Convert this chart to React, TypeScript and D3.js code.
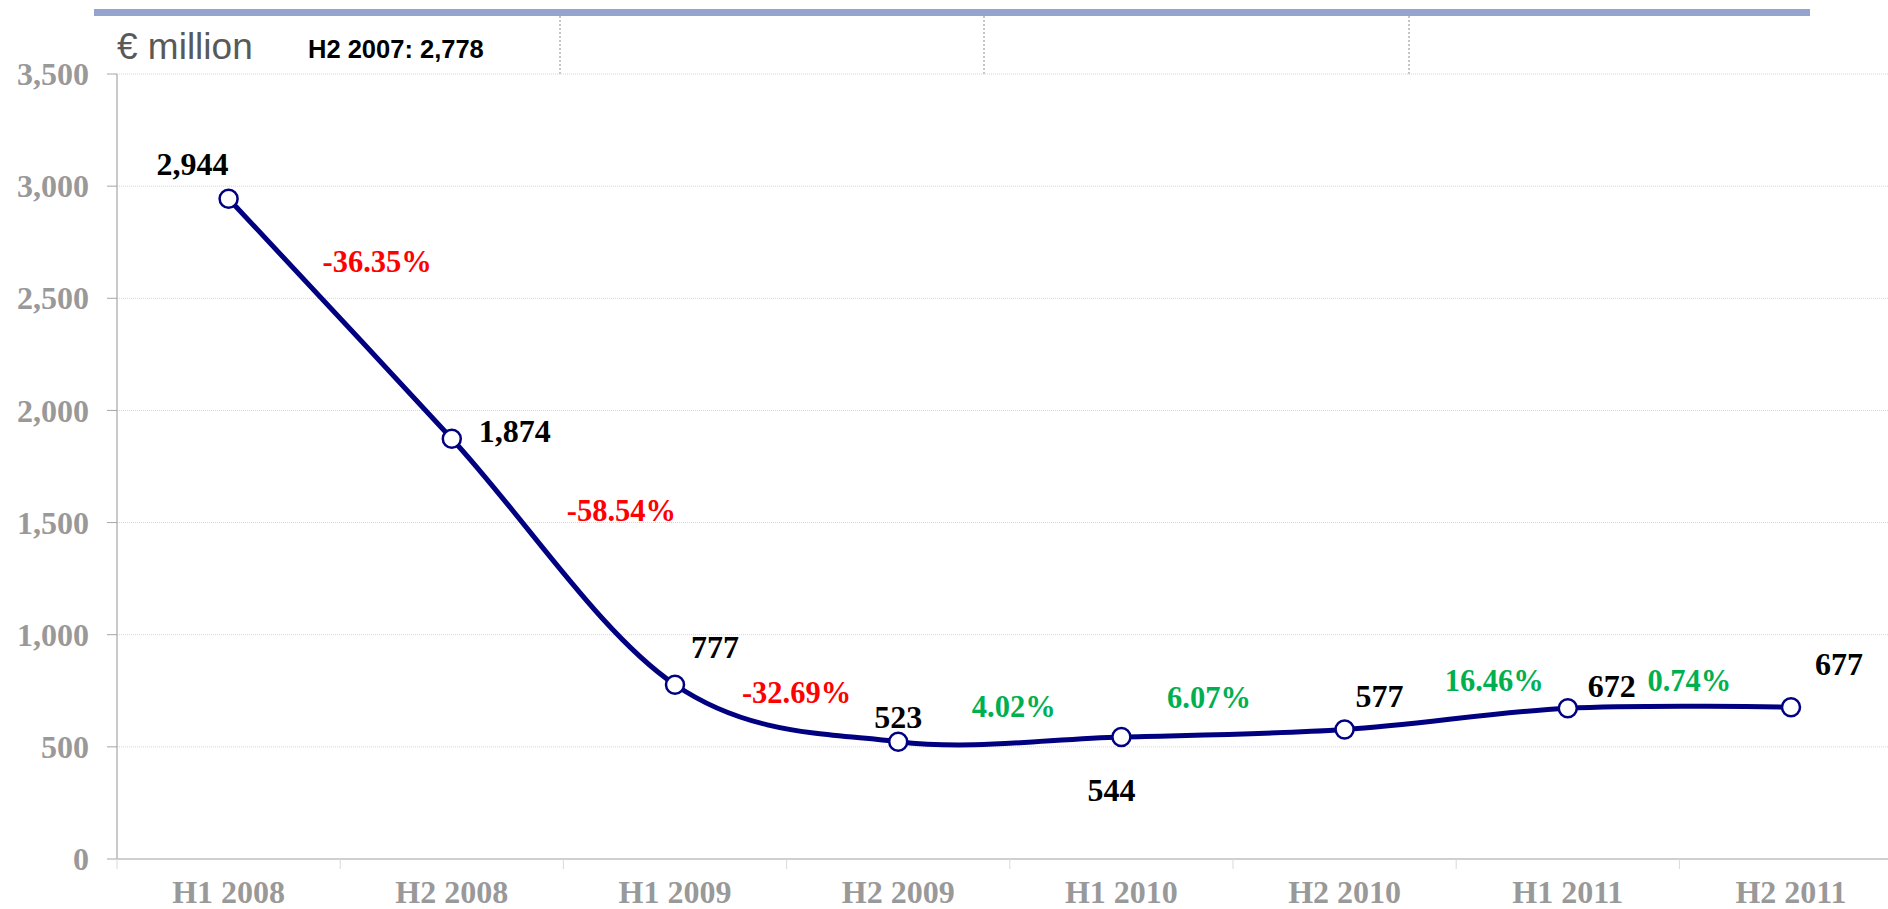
import React from 'react';
import * as d3 from 'd3';

// half-year periods and values (€ million)
const periods = ['H1 2008', 'H2 2008', 'H1 2009', 'H2 2009', 'H1 2010', 'H2 2010', 'H1 2011', 'H2 2011'];
const values = [2944, 1874, 777, 523, 544, 577, 672, 677];
const changes = ['-36.35%', '-58.54%', '-32.69%', '4.02%', '6.07%', '16.46%', '0.74%'];
const yTicks = [0, 500, 1000, 1500, 2000, 2500, 3000, 3500];
const baseLabel = 'H2 2007: 2,778';

// label offsets (px) from the point / from the segment midpoint
const valueOffsets: [number, number, string][] = [
  [0, -24, 'end'],
  [27, 3, 'start'],
  [16, -27, 'start'],
  [0, -14, 'middle'],
  [-10, 64, 'middle'],
  [11, -23, 'start'],
  [20, -11, 'start'],
  [24, -32, 'start'],
];
const changeOffsets: [number, number][] = [
  [37, -47], [58, -41], [10, -10], [4, -22], [-24, -25], [38, -28], [10, -17],
];

const W = 1888;
const H = 909;
const margin = { left: 117, top: 74, bottom: 859 };
const bandW = 223.2;

export default function App() {
  const x = d3.scaleBand<string>()
    .domain(periods)
    .range([margin.left, margin.left + bandW * periods.length])
    .paddingInner(0).paddingOuter(0);
  const y = d3.scaleLinear().domain([0, 3500]).range([margin.bottom, margin.top]);
  const cx = (i: number) => (x(periods[i]) as number) + x.bandwidth() / 2;

  const line = d3.line<number>()
    .x((_, i) => cx(i))
    .y(d => y(d))
    .curve(d3.curveCardinal.tension(0));

  const serif = '"Liberation Serif", "Times New Roman", serif';
  const sans = '"Liberation Sans", Arial, sans-serif';

  return (
    <svg width={W} height={H} style={{ position: 'absolute', left: 0, top: 0, background: '#fff' }}>
      {/* header bar and dividers */}
      <rect x={94} y={9} width={1716} height={7} fill="#95a3cf" />
      {[560, 984, 1409].map(dx => (
        <line key={dx} x1={dx} x2={dx} y1={16} y2={margin.top} stroke="#8c8c8c" strokeDasharray="2,2" strokeWidth={1} />
      ))}
      <text x={117} y={59} fontFamily={sans} fontSize={37} fill="#595959">€ million</text>
      <text x={308} y={58} fontFamily={sans} fontSize={25.5} fontWeight="bold" fill="#000">{baseLabel}</text>

      {/* gridlines */}
      {yTicks.filter(t => t > 0).map(t => (
        <line key={t} x1={margin.left} x2={W} y1={y(t)} y2={y(t)} stroke="#d4d4d4" strokeDasharray="1,1" strokeWidth={1} />
      ))}
      {/* y axis */}
      <line x1={margin.left} x2={margin.left} y1={margin.top} y2={margin.bottom} stroke="#a6a6a6" strokeWidth={1.2} />
      {yTicks.map(t => (
        <g key={t}>
          <line x1={107} x2={margin.left} y1={y(t)} y2={y(t)} stroke="#a6a6a6" strokeWidth={1} />
          <text x={89} y={y(t)} dy="0.35em" textAnchor="end" fontFamily={serif} fontWeight="bold" fontSize={32} fill="#999999">
            {d3.format(',')(t)}
          </text>
        </g>
      ))}
      {/* x axis */}
      <line x1={margin.left} x2={W} y1={margin.bottom} y2={margin.bottom} stroke="#bfbfbf" strokeWidth={1.5} />
      {periods.map((p, i) => (
        <g key={p}>
          <line x1={x(p) as number} x2={x(p) as number} y1={margin.bottom} y2={margin.bottom + 10} stroke="#d9d9d9" strokeWidth={1} />
          <text x={cx(i)} y={903} textAnchor="middle" fontFamily={serif} fontWeight="bold" fontSize={32} fill="#999999">{p}</text>
        </g>
      ))}

      {/* series */}
      <path d={line(values) as string} fill="none" stroke="#000080" strokeWidth={5} strokeLinejoin="round" />
      {values.map((v, i) => (
        <circle key={i} cx={cx(i)} cy={y(v)} r={9} fill="#fff" stroke="#000080" strokeWidth={2.5} />
      ))}

      {/* value labels */}
      {values.map((v, i) => (
        <text key={i} x={cx(i) + valueOffsets[i][0]} y={y(v) + valueOffsets[i][1]}
          textAnchor={valueOffsets[i][2] as any} fontFamily={serif} fontWeight="bold" fontSize={32} fill="#000">
          {d3.format(',')(v)}
        </text>
      ))}
      {/* period-on-period change labels */}
      {changes.map((c, i) => {
        const mx = (cx(i) + cx(i + 1)) / 2;
        const my = (y(values[i]) + y(values[i + 1])) / 2;
        return (
          <text key={c} x={mx + changeOffsets[i][0]} y={my + changeOffsets[i][1]} textAnchor="middle"
            fontFamily={serif} fontWeight="bold" fontSize={30.5} fill={c.startsWith('-') ? '#ff0000' : '#00b050'}>
            {c}
          </text>
        );
      })}
    </svg>
  );
}
